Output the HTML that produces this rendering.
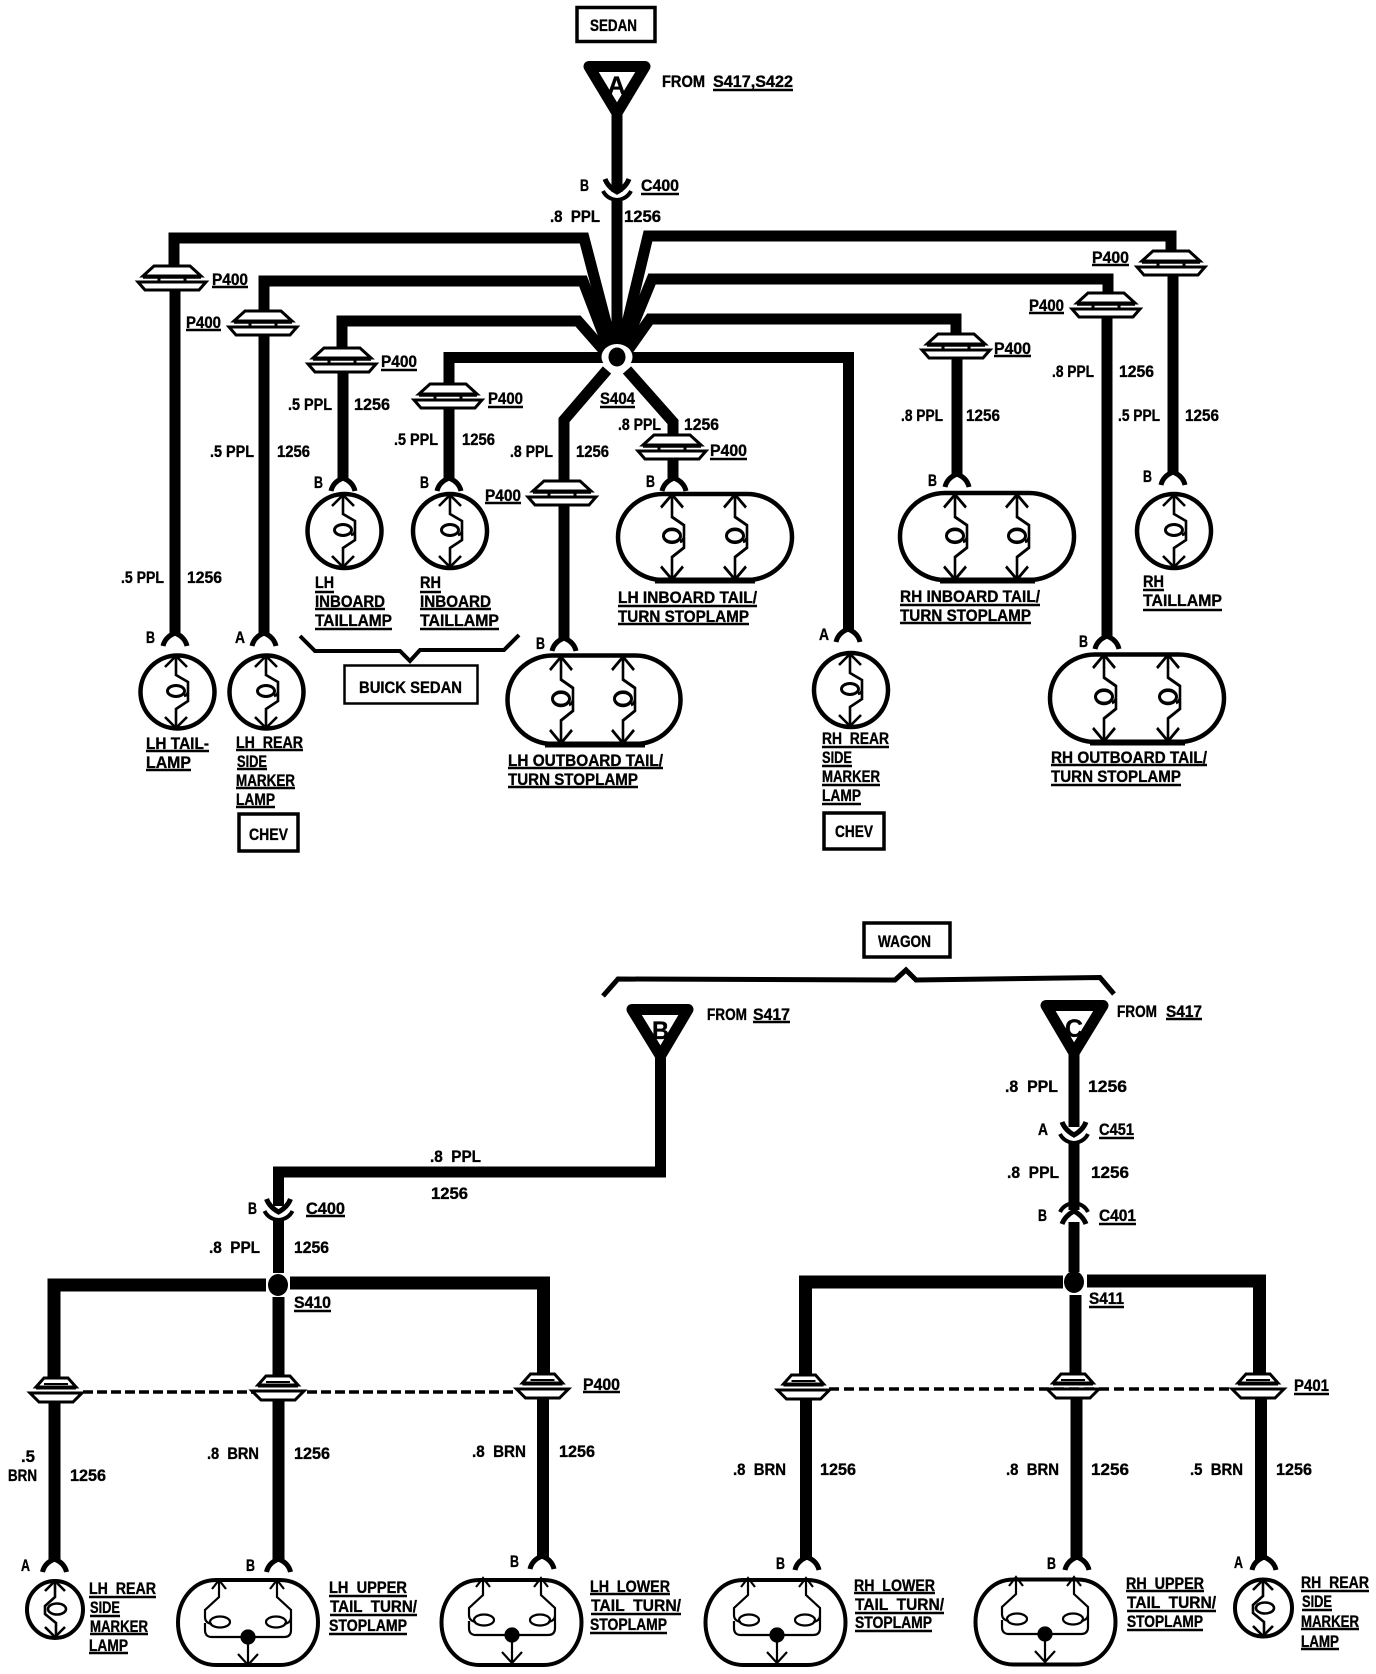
<!DOCTYPE html>
<html>
<head>
<meta charset="utf-8">
<style>
html,body{margin:0;padding:0;background:#fff}
svg{display:block}
text{font-family:"Liberation Sans",sans-serif;font-weight:bold;font-size:16.5px;fill:#000;stroke:#000;stroke-width:.35px;white-space:pre}
</style>
</head>
<body>
<svg width="1376" height="1674" viewBox="0 0 1376 1674" xmlns="http://www.w3.org/2000/svg">
<defs>
<g id="gr">
<path d="M-18,-12H18L29,-2H-29Z" fill="#fff" stroke="#000" stroke-width="3"/>
<path d="M-29,-1H29" stroke="#000" stroke-width="3.500" fill="none"/>
<path d="M-13,-1V5M13,-1V5" stroke="#000" stroke-width="3" fill="none"/>
<path d="M-34,4H34L27,12H-27Z" fill="#fff" stroke="#000" stroke-width="3"/>
</g>
<g id="gw">
<path d="M-12,-12H12L20,-3H-20Z" fill="#fff" stroke="#000" stroke-width="3"/>
<path d="M-20,-2H20" stroke="#000" stroke-width="3"/>
<path d="M-26,3H26L17,12H-17Z" fill="#fff" stroke="#000" stroke-width="3"/>
<path d="M-12,-6H12" stroke="#000" stroke-width="2"/>
</g>
<path id="pin" d="M-12,12Q-10,3 0,-1Q10,3 12,12" fill="none" stroke="#000" stroke-width="5"/>
<g id="conn" fill="none" stroke="#000">
<path d="M-12,-9Q-9,-1 0,4Q9,-1 12,-9" stroke-width="5"/>
<path d="M-14,3Q-10,11 0,12Q10,11 14,3" stroke-width="4"/>
</g>
<g id="fil" fill="none" stroke="#000" stroke-width="2.6">
<path d="M0,-36V-17L12,-10V-1Q12,3 8,4M12,0V9L0,17V36"/>
<ellipse cx="0" cy="-1" rx="8.500" ry="5.500" stroke-width="3"/>
<path d="M-11,-25L0,-36L11,-25M-11,25L0,36L11,25"/>
</g>
<g id="sfil" fill="none" stroke="#000" stroke-width="2.6">
<path d="M0,-28V-12L-10,-3V5L1,14V28"/>
<ellipse cx="2" cy="0" rx="9" ry="5.500"/>
<path d="M-10,-18L0,-28L10,-18M-10,18L0,28L10,18"/>
</g>
<g id="dfil" fill="none" stroke="#000" stroke-width="2.2">
<path d="M-29,-57V-40L-43,-27V-20Q-43,-14 -36,-13M-43,-14V-7Q-43,0 -36,0H36Q43,0 43,-7V-14M43,-13V-20V-27L29,-40V-57M43,-20Q43,-14 36,-13"/>
<ellipse cx="-28" cy="-15" rx="10" ry="5.500"/>
<ellipse cx="28" cy="-15" rx="10" ry="5.500"/>
<path d="M-36,-48L-29,-57L-22,-48M22,-48L29,-57L36,-48M0,0V28M-10,17L0,28L10,17"/>
<circle cx="0" cy="0" r="6.500" fill="#000"/>
</g>
<path id="dl" d="M-32,-42.500H32C55,-42.500 70,-22 70,0C70,22 55,42.500 32,42.500H-32C-55,42.500 -70,22 -70,0C-70,-22 -55,-42.500 -32,-42.500Z" fill="#fff" stroke="#000" stroke-width="4"/>
</defs>

<!-- SEDAN wires -->
<g fill="none" stroke="#000" stroke-width="11">
<path d="M617,115V192M617,199V357"/>
<path d="M174,268V238H584L615,357"/>
<path d="M264,312V281H583L612,357"/>
<path d="M342,350V321H578L614,362"/>
<path d="M449,385V357.500H617"/>
<path d="M1171,252V236H648L619,357"/>
<path d="M1108,295V279H652L620,357"/>
<path d="M956,335V319H650L621,360"/>
<path d="M617,357.500H848.500V632"/>
<path d="M607,370L564,420V482M564,505V640"/>
<path d="M627,370L673,422V436M673,458V480"/>
<path d="M175,288V635M264,335V635M343,372V480M449,408V480"/>
<path d="M1107,316V638M1173,275V474M957,358V476"/>
</g>
<ellipse cx="617" cy="357" rx="15.500" ry="13" fill="#fff"/>
<ellipse cx="617" cy="357" rx="8.500" ry="9.500" fill="#000"/>

<!-- A triangle -->
<path d="M589,66.500H645L617,113Z" fill="#fff" stroke="#000" stroke-width="11" stroke-linejoin="round"/>
<text x="607.500" y="94" textLength="18" lengthAdjust="spacingAndGlyphs" style="font-size:25px">A</text>
<use href="#conn" x="617" y="188"/>

<!-- SEDAN grommets -->
<use href="#gr" x="172" y="278"/>
<use href="#gr" x="263" y="323"/>
<use href="#gr" x="342" y="360"/>
<use href="#gr" x="448" y="396"/>
<use href="#gr" x="562" y="493"/>
<use href="#gr" x="672" y="447"/>
<use href="#gr" x="956" y="346"/>
<use href="#gr" x="1106" y="305"/>
<use href="#gr" x="1171" y="263"/>

<!-- SEDAN pins -->
<use href="#pin" x="175" y="634"/>
<use href="#pin" x="264" y="634"/>
<use href="#pin" x="343" y="479"/>
<use href="#pin" x="449" y="479"/>
<use href="#pin" x="564" y="639"/>
<use href="#pin" x="674" y="479"/>
<use href="#pin" x="848" y="630"/>
<use href="#pin" x="957" y="475"/>
<use href="#pin" x="1107" y="637"/>
<use href="#pin" x="1173" y="473"/>

<!-- SEDAN lamps -->
<g fill="#fff" stroke="#000" stroke-width="4.500">
<ellipse cx="177.500" cy="692" rx="37" ry="36.500"/>
<ellipse cx="266.500" cy="692" rx="37" ry="36.500"/>
<ellipse cx="344.500" cy="531" rx="37" ry="37"/>
<ellipse cx="450" cy="531" rx="37" ry="37"/>
<ellipse cx="1174" cy="531" rx="37" ry="37"/>
<ellipse cx="851" cy="690" rx="37" ry="37"/>
<rect x="507.500" y="655.500" width="173" height="88.500" rx="45" ry="44"/>
<rect x="618" y="494" width="174" height="86" rx="45" ry="43"/>
<rect x="900" y="493" width="174" height="87" rx="45" ry="43"/>
<rect x="1050" y="654.500" width="174" height="87.500" rx="45" ry="43.500"/>
</g>
<path d="M545,744.500H645M655,580.500H755M940,580.500H1035M1090,742.500H1185" stroke="#000" stroke-width="6" fill="none"/>
<use href="#fil" x="176" y="692"/>
<use href="#fil" x="266" y="692"/>
<use href="#fil" x="343" y="531"/>
<use href="#fil" x="450" y="531"/>
<use href="#fil" x="1174" y="531"/>
<use href="#fil" x="850" y="690"/>
<g transform="translate(561,700) scale(1,1.2)"><use href="#fil"/></g>
<g transform="translate(623,700) scale(1,1.2)"><use href="#fil"/></g>
<g transform="translate(672,537) scale(1,1.18)"><use href="#fil"/></g>
<g transform="translate(735,537) scale(1,1.18)"><use href="#fil"/></g>
<g transform="translate(955,537) scale(1,1.18)"><use href="#fil"/></g>
<g transform="translate(1017,537) scale(1,1.18)"><use href="#fil"/></g>
<g transform="translate(1104,698) scale(1,1.2)"><use href="#fil"/></g>
<g transform="translate(1168,698) scale(1,1.2)"><use href="#fil"/></g>

<!-- Boxes & brackets -->
<g fill="#fff" stroke="#000" stroke-width="3.500">
<rect x="577" y="7.500" width="78" height="34"/>
<rect x="239" y="814" width="59" height="37"/>
<rect x="824" y="813" width="60" height="36"/>
<rect x="344.500" y="665.500" width="133" height="38" stroke-width="2.500"/>
<rect x="864" y="923" width="86" height="34"/>
</g>
<path d="M300,636L315,651H400L410,661L420,650H504L519,635" fill="none" stroke="#000" stroke-width="4"/>
<path d="M603,996L618,979L895,980L906,970L916,980L1100,977.500L1114,994" fill="none" stroke="#000" stroke-width="5"/>

<!-- WAGON upper -->
<g fill="none" stroke="#000" stroke-width="11">
<path d="M660.500,1058V1172H278.500V1206M278.500,1220V1273"/>
<path d="M1074,1052V1127M1074,1142V1210M1074,1222V1272"/>
</g>
<path d="M632,1009.500H688L660.500,1056Z" fill="#fff" stroke="#000" stroke-width="11" stroke-linejoin="round"/>
<path d="M1046,1005.500H1103L1074,1053Z" fill="#fff" stroke="#000" stroke-width="11" stroke-linejoin="round"/>
<text x="652" y="1039" textLength="17" lengthAdjust="spacingAndGlyphs" style="font-size:25px">B</text>
<text x="1065" y="1037" textLength="18" lengthAdjust="spacingAndGlyphs" style="font-size:25px">C</text>
<use href="#conn" x="278.500" y="1208"/>
<use href="#conn" x="1074" y="1131"/>
<g transform="translate(1074,1215) scale(1,-1)"><use href="#conn"/></g>

<!-- WAGON branches -->
<g fill="none" stroke="#000" stroke-width="13">
<path d="M54,1379V1285H266M290,1283H543.500V1376"/>
<path d="M805.500,1377V1282H1063M1087,1281H1259.500V1376"/>
</g>
<g fill="none" stroke="#000" stroke-width="12">
<path d="M278.500,1297V1378M278.500,1400V1562"/>
<path d="M54.500,1402V1562M543,1397V1559"/>
<path d="M1075.500,1295V1376M1076.500,1398V1560"/>
<path d="M806,1397V1560M1261,1397V1560"/>
</g>
<ellipse cx="278" cy="1285" rx="10" ry="11" fill="#000"/>
<ellipse cx="1074" cy="1282" rx="10" ry="11" fill="#000"/>
<path d="M83,1392H513" stroke="#000" stroke-width="3.500" stroke-dasharray="10 4" fill="none"/>
<path d="M829,1389H1230" stroke="#000" stroke-width="3.500" stroke-dasharray="10 5" fill="none"/>
<use href="#gw" x="56" y="1390"/>
<use href="#gw" x="278" y="1388"/>
<use href="#gw" x="542.500" y="1386"/>
<use href="#gw" x="803.500" y="1387"/>
<use href="#gw" x="1073" y="1386"/>
<use href="#gw" x="1258" y="1386"/>
<use href="#pin" x="54.500" y="1560"/>
<use href="#pin" x="278.500" y="1560"/>
<use href="#pin" x="542" y="1557"/>
<use href="#pin" x="807" y="1558"/>
<use href="#pin" x="1077" y="1558"/>
<use href="#pin" x="1264" y="1558"/>

<!-- WAGON lamps -->
<g fill="#fff" stroke="#000" stroke-width="4">
<ellipse cx="55" cy="1609.500" rx="28" ry="28.500"/>
<ellipse cx="1263.500" cy="1608" rx="28.500" ry="28.500"/>
</g>
<use href="#dl" x="248" y="1622.500"/>
<use href="#dl" x="511.500" y="1622.500"/>
<use href="#dl" x="775.500" y="1622.500"/>
<use href="#dl" x="1045.500" y="1622"/>
<use href="#sfil" x="55" y="1609"/>
<use href="#sfil" x="1263" y="1608"/>
<use href="#dfil" x="248" y="1637"/>
<use href="#dfil" x="512" y="1635"/>
<use href="#dfil" x="777" y="1635"/>
<use href="#dfil" x="1045" y="1634"/>

<!-- Underlines -->
<path fill="none" stroke="#000" stroke-width="2.400" d="
M713,90H793M641,194H679M212,287H248M186,330H221M381,370H417M488,407H523M485,503H521M710,459H747M994,356H1031M1029,313H1064M1092,265H1129M600,407H635
M315,592H334M315,609H385M315,629H392M420,592H441M420,609H491M420,629H499
M146,751H209M146,770H191M236,750H303M237,769H267M236,788H295M236,807H275
M508,768H663M508,787H638M618,606H757M618,624H749
M900,605H1040M900,623H1031M1143,590H1164M1143,610H1222
M822,747H889M822,766H852M822,785H880M822,804H861
M1051,765H1207M1051,785H1181
M753,1022H790M1166,1019H1202M306,1216H345M1099,1138H1134M1099,1224H1136
M294,1311H331M583,1392H620M1089,1307H1124M1294,1394H1329
M89,1597H156M90,1616H120M90,1634H148M89,1653H128
M329,1596H407M330,1615H417M329,1634H407
M590,1594H670M591,1614H681M590,1633H667
M854,1593H935M855,1613H944M855,1631H932
M1126,1591H1204M1127,1611H1216M1127,1630H1203
M1301,1591H1369M1302,1610H1332M1301,1629H1359M1301,1649H1339"/>

<!-- Text -->
<text x="590" y="31" textLength="47" lengthAdjust="spacingAndGlyphs">SEDAN</text>
<text x="662" y="87" textLength="43" lengthAdjust="spacingAndGlyphs">FROM</text>
<text x="713" y="87" textLength="80" lengthAdjust="spacingAndGlyphs">S417,S422</text>
<text x="580" y="191" textLength="9" lengthAdjust="spacingAndGlyphs">B</text>
<text x="641" y="191" textLength="38" lengthAdjust="spacingAndGlyphs">C400</text>
<text x="550" y="222" textLength="50" lengthAdjust="spacingAndGlyphs">.8  PPL</text>
<text x="624" y="222" textLength="37" lengthAdjust="spacingAndGlyphs">1256</text>

<text x="212" y="285" textLength="36" lengthAdjust="spacingAndGlyphs">P400</text>
<text x="186" y="328" textLength="35" lengthAdjust="spacingAndGlyphs">P400</text>
<text x="381" y="367" textLength="36" lengthAdjust="spacingAndGlyphs">P400</text>
<text x="488" y="404" textLength="35" lengthAdjust="spacingAndGlyphs">P400</text>
<text x="485" y="501" textLength="36" lengthAdjust="spacingAndGlyphs">P400</text>
<text x="710" y="456" textLength="37" lengthAdjust="spacingAndGlyphs">P400</text>
<text x="994" y="354" textLength="37" lengthAdjust="spacingAndGlyphs">P400</text>
<text x="1029" y="311" textLength="35" lengthAdjust="spacingAndGlyphs">P400</text>
<text x="1092" y="263" textLength="37" lengthAdjust="spacingAndGlyphs">P400</text>
<text x="600" y="404" textLength="35" lengthAdjust="spacingAndGlyphs">S404</text>

<text x="288" y="410" textLength="44" lengthAdjust="spacingAndGlyphs">.5 PPL</text>
<text x="354" y="410" textLength="36" lengthAdjust="spacingAndGlyphs">1256</text>
<text x="394" y="445" textLength="44" lengthAdjust="spacingAndGlyphs">.5 PPL</text>
<text x="462" y="445" textLength="33" lengthAdjust="spacingAndGlyphs">1256</text>
<text x="210" y="457" textLength="44" lengthAdjust="spacingAndGlyphs">.5 PPL</text>
<text x="277" y="457" textLength="33" lengthAdjust="spacingAndGlyphs">1256</text>
<text x="510" y="457" textLength="43" lengthAdjust="spacingAndGlyphs">.8 PPL</text>
<text x="576" y="457" textLength="33" lengthAdjust="spacingAndGlyphs">1256</text>
<text x="618" y="430" textLength="43" lengthAdjust="spacingAndGlyphs">.8 PPL</text>
<text x="684" y="430" textLength="35" lengthAdjust="spacingAndGlyphs">1256</text>
<text x="121" y="583" textLength="43" lengthAdjust="spacingAndGlyphs">.5 PPL</text>
<text x="187" y="583" textLength="35" lengthAdjust="spacingAndGlyphs">1256</text>
<text x="901" y="421" textLength="42" lengthAdjust="spacingAndGlyphs">.8 PPL</text>
<text x="966" y="421" textLength="34" lengthAdjust="spacingAndGlyphs">1256</text>
<text x="1052" y="377" textLength="42" lengthAdjust="spacingAndGlyphs">.8 PPL</text>
<text x="1119" y="377" textLength="35" lengthAdjust="spacingAndGlyphs">1256</text>
<text x="1118" y="421" textLength="42" lengthAdjust="spacingAndGlyphs">.5 PPL</text>
<text x="1185" y="421" textLength="34" lengthAdjust="spacingAndGlyphs">1256</text>

<text x="314" y="488" textLength="9" lengthAdjust="spacingAndGlyphs">B</text>
<text x="420" y="488" textLength="9" lengthAdjust="spacingAndGlyphs">B</text>
<text x="146" y="643" textLength="9" lengthAdjust="spacingAndGlyphs">B</text>
<text x="235" y="643" textLength="10" lengthAdjust="spacingAndGlyphs">A</text>
<text x="536" y="649" textLength="9" lengthAdjust="spacingAndGlyphs">B</text>
<text x="646" y="487" textLength="9" lengthAdjust="spacingAndGlyphs">B</text>
<text x="928" y="486" textLength="9" lengthAdjust="spacingAndGlyphs">B</text>
<text x="819" y="640" textLength="10" lengthAdjust="spacingAndGlyphs">A</text>
<text x="1143" y="482" textLength="9" lengthAdjust="spacingAndGlyphs">B</text>
<text x="1079" y="647" textLength="9" lengthAdjust="spacingAndGlyphs">B</text>

<text x="315" y="588" textLength="19" lengthAdjust="spacingAndGlyphs">LH</text>
<text x="315" y="607" textLength="70" lengthAdjust="spacingAndGlyphs">INBOARD</text>
<text x="315" y="626" textLength="77" lengthAdjust="spacingAndGlyphs">TAILLAMP</text>
<text x="420" y="588" textLength="21" lengthAdjust="spacingAndGlyphs">RH</text>
<text x="420" y="607" textLength="71" lengthAdjust="spacingAndGlyphs">INBOARD</text>
<text x="420" y="626" textLength="79" lengthAdjust="spacingAndGlyphs">TAILLAMP</text>
<text x="146" y="749" textLength="63" lengthAdjust="spacingAndGlyphs">LH TAIL-</text>
<text x="146" y="768" textLength="45" lengthAdjust="spacingAndGlyphs">LAMP</text>
<text x="236" y="748" textLength="67" lengthAdjust="spacingAndGlyphs">LH  REAR</text>
<text x="237" y="767" textLength="30" lengthAdjust="spacingAndGlyphs">SIDE</text>
<text x="236" y="786" textLength="59" lengthAdjust="spacingAndGlyphs">MARKER</text>
<text x="236" y="805" textLength="39" lengthAdjust="spacingAndGlyphs">LAMP</text>
<text x="249" y="840" textLength="39" lengthAdjust="spacingAndGlyphs">CHEV</text>
<text x="359" y="693" textLength="103" lengthAdjust="spacingAndGlyphs">BUICK SEDAN</text>
<text x="508" y="766" textLength="155" lengthAdjust="spacingAndGlyphs">LH OUTBOARD TAIL/</text>
<text x="508" y="785" textLength="130" lengthAdjust="spacingAndGlyphs">TURN STOPLAMP</text>
<text x="618" y="603" textLength="139" lengthAdjust="spacingAndGlyphs">LH INBOARD TAIL/</text>
<text x="618" y="622" textLength="131" lengthAdjust="spacingAndGlyphs">TURN STOPLAMP</text>
<text x="900" y="602" textLength="140" lengthAdjust="spacingAndGlyphs">RH INBOARD TAIL/</text>
<text x="900" y="621" textLength="131" lengthAdjust="spacingAndGlyphs">TURN STOPLAMP</text>
<text x="1143" y="587" textLength="21" lengthAdjust="spacingAndGlyphs">RH</text>
<text x="1143" y="606" textLength="79" lengthAdjust="spacingAndGlyphs">TAILLAMP</text>
<text x="822" y="744" textLength="67" lengthAdjust="spacingAndGlyphs">RH  REAR</text>
<text x="822" y="763" textLength="30" lengthAdjust="spacingAndGlyphs">SIDE</text>
<text x="822" y="782" textLength="58" lengthAdjust="spacingAndGlyphs">MARKER</text>
<text x="822" y="801" textLength="39" lengthAdjust="spacingAndGlyphs">LAMP</text>
<text x="835" y="837" textLength="38" lengthAdjust="spacingAndGlyphs">CHEV</text>
<text x="1051" y="763" textLength="156" lengthAdjust="spacingAndGlyphs">RH OUTBOARD TAIL/</text>
<text x="1051" y="782" textLength="130" lengthAdjust="spacingAndGlyphs">TURN STOPLAMP</text>

<text x="878" y="947" textLength="53" lengthAdjust="spacingAndGlyphs">WAGON</text>
<text x="707" y="1020" textLength="40" lengthAdjust="spacingAndGlyphs">FROM</text>
<text x="753" y="1020" textLength="37" lengthAdjust="spacingAndGlyphs">S417</text>
<text x="1117" y="1017" textLength="40" lengthAdjust="spacingAndGlyphs">FROM</text>
<text x="1166" y="1017" textLength="36" lengthAdjust="spacingAndGlyphs">S417</text>
<text x="430" y="1162" textLength="51" lengthAdjust="spacingAndGlyphs">.8  PPL</text>
<text x="431" y="1199" textLength="37" lengthAdjust="spacingAndGlyphs">1256</text>
<text x="248" y="1214" textLength="9" lengthAdjust="spacingAndGlyphs">B</text>
<text x="306" y="1214" textLength="39" lengthAdjust="spacingAndGlyphs">C400</text>
<text x="209" y="1253" textLength="51" lengthAdjust="spacingAndGlyphs">.8  PPL</text>
<text x="294" y="1253" textLength="35" lengthAdjust="spacingAndGlyphs">1256</text>
<text x="1005" y="1092" textLength="53" lengthAdjust="spacingAndGlyphs">.8  PPL</text>
<text x="1088" y="1092" textLength="39" lengthAdjust="spacingAndGlyphs">1256</text>
<text x="1038" y="1135" textLength="10" lengthAdjust="spacingAndGlyphs">A</text>
<text x="1099" y="1135" textLength="35" lengthAdjust="spacingAndGlyphs">C451</text>
<text x="1007" y="1178" textLength="52" lengthAdjust="spacingAndGlyphs">.8  PPL</text>
<text x="1091" y="1178" textLength="38" lengthAdjust="spacingAndGlyphs">1256</text>
<text x="1038" y="1221" textLength="9" lengthAdjust="spacingAndGlyphs">B</text>
<text x="1099" y="1221" textLength="37" lengthAdjust="spacingAndGlyphs">C401</text>

<text x="294" y="1308" textLength="37" lengthAdjust="spacingAndGlyphs">S410</text>
<text x="1089" y="1304" textLength="35" lengthAdjust="spacingAndGlyphs">S411</text>
<text x="583" y="1390" textLength="37" lengthAdjust="spacingAndGlyphs">P400</text>
<text x="1294" y="1391" textLength="35" lengthAdjust="spacingAndGlyphs">P401</text>

<text x="21" y="1462" textLength="14" lengthAdjust="spacingAndGlyphs">.5</text>
<text x="8" y="1481" textLength="29" lengthAdjust="spacingAndGlyphs">BRN</text>
<text x="70" y="1481" textLength="36" lengthAdjust="spacingAndGlyphs">1256</text>
<text x="207" y="1459" textLength="52" lengthAdjust="spacingAndGlyphs">.8  BRN</text>
<text x="294" y="1459" textLength="36" lengthAdjust="spacingAndGlyphs">1256</text>
<text x="472" y="1457" textLength="54" lengthAdjust="spacingAndGlyphs">.8  BRN</text>
<text x="559" y="1457" textLength="36" lengthAdjust="spacingAndGlyphs">1256</text>
<text x="733" y="1475" textLength="53" lengthAdjust="spacingAndGlyphs">.8  BRN</text>
<text x="820" y="1475" textLength="36" lengthAdjust="spacingAndGlyphs">1256</text>
<text x="1006" y="1475" textLength="53" lengthAdjust="spacingAndGlyphs">.8  BRN</text>
<text x="1091" y="1475" textLength="38" lengthAdjust="spacingAndGlyphs">1256</text>
<text x="1190" y="1475" textLength="53" lengthAdjust="spacingAndGlyphs">.5  BRN</text>
<text x="1276" y="1475" textLength="36" lengthAdjust="spacingAndGlyphs">1256</text>

<text x="21" y="1571" textLength="9" lengthAdjust="spacingAndGlyphs">A</text>
<text x="246" y="1571" textLength="9" lengthAdjust="spacingAndGlyphs">B</text>
<text x="510" y="1567" textLength="9" lengthAdjust="spacingAndGlyphs">B</text>
<text x="776" y="1569" textLength="9" lengthAdjust="spacingAndGlyphs">B</text>
<text x="1047" y="1569" textLength="9" lengthAdjust="spacingAndGlyphs">B</text>
<text x="1234" y="1568" textLength="9" lengthAdjust="spacingAndGlyphs">A</text>

<text x="89" y="1594" textLength="67" lengthAdjust="spacingAndGlyphs">LH  REAR</text>
<text x="90" y="1613" textLength="30" lengthAdjust="spacingAndGlyphs">SIDE</text>
<text x="90" y="1632" textLength="58" lengthAdjust="spacingAndGlyphs">MARKER</text>
<text x="89" y="1651" textLength="39" lengthAdjust="spacingAndGlyphs">LAMP</text>
<text x="329" y="1593" textLength="78" lengthAdjust="spacingAndGlyphs">LH  UPPER</text>
<text x="330" y="1612" textLength="87" lengthAdjust="spacingAndGlyphs">TAIL  TURN/</text>
<text x="329" y="1631" textLength="78" lengthAdjust="spacingAndGlyphs">STOPLAMP</text>
<text x="590" y="1592" textLength="80" lengthAdjust="spacingAndGlyphs">LH  LOWER</text>
<text x="591" y="1611" textLength="90" lengthAdjust="spacingAndGlyphs">TAIL  TURN/</text>
<text x="590" y="1630" textLength="77" lengthAdjust="spacingAndGlyphs">STOPLAMP</text>
<text x="854" y="1591" textLength="81" lengthAdjust="spacingAndGlyphs">RH  LOWER</text>
<text x="855" y="1610" textLength="89" lengthAdjust="spacingAndGlyphs">TAIL  TURN/</text>
<text x="855" y="1628" textLength="77" lengthAdjust="spacingAndGlyphs">STOPLAMP</text>
<text x="1126" y="1589" textLength="78" lengthAdjust="spacingAndGlyphs">RH  UPPER</text>
<text x="1127" y="1608" textLength="89" lengthAdjust="spacingAndGlyphs">TAIL  TURN/</text>
<text x="1127" y="1627" textLength="76" lengthAdjust="spacingAndGlyphs">STOPLAMP</text>
<text x="1301" y="1588" textLength="68" lengthAdjust="spacingAndGlyphs">RH  REAR</text>
<text x="1302" y="1607" textLength="30" lengthAdjust="spacingAndGlyphs">SIDE</text>
<text x="1301" y="1627" textLength="58" lengthAdjust="spacingAndGlyphs">MARKER</text>
<text x="1301" y="1647" textLength="38" lengthAdjust="spacingAndGlyphs">LAMP</text>
</svg>
</body>
</html>
